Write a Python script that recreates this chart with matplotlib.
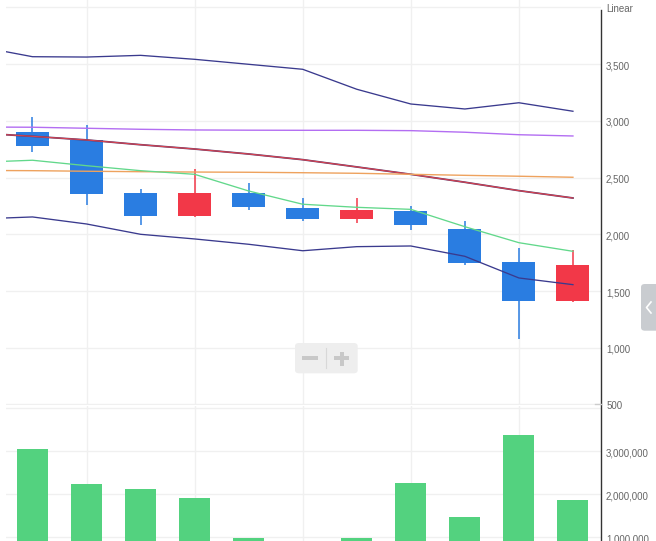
import numpy as np
import matplotlib
matplotlib.use("Agg")
import matplotlib.pyplot as plt
from matplotlib.patches import FancyBboxPatch, Rectangle
from matplotlib.lines import Line2D
from matplotlib.ticker import FuncFormatter

# candle data (index 0..10)
opens = [2902, 2832, 2364, 2164, 2364, 2232, 2135, 2206, 2047, 1756, 1415]
closes = [2781, 2358, 2164, 2364, 2243, 2135, 2214, 2082, 1750, 1415, 1729]
highs = [3034, 2964, 2400, 2576, 2452, 2320, 2320, 2250, 2117, 1879, 1862]
lows = [2728, 2261, 2085, 2155, 2217, 2120, 2100, 2038, 1729, 1080, 1403]
volumes = [3.05e6, 2.24e6, 2.12e6, 1.91e6, 0.98e6, 0.62e6, 0.98e6, 2.26e6, 1.47e6, 3.38e6, 1.87e6]

# indicator lines (index -1..10, first point is off the left edge)
bb_upper = [3656, 3566, 3563, 3578, 3543, 3499, 3455, 3279, 3149, 3105, 3160, 3085]
bb_lower = [2135, 2153, 2091, 2000, 1959, 1912, 1855, 1891, 1897, 1806, 1615, 1556]
bb_middle = [2893, 2864, 2832, 2790, 2752, 2708, 2658, 2594, 2529, 2459, 2385, 2320]
purple_line = [2946, 2944, 2935, 2926, 2920, 2918, 2917, 2917, 2914, 2900, 2878, 2867]
orange_line = [2563, 2561, 2556, 2552, 2549, 2547, 2543, 2538, 2529, 2520, 2512, 2503]
green_line = [2635, 2653, 2605, 2561, 2529, 2382, 2265, 2238, 2220, 2067, 1926, 1850]

price_ticks = [500, 1000, 1500, 2000, 2500, 3000, 3500]
price_grid = [500, 1000, 1500, 2000, 2500, 3000, 3500, 4000]
vol_ticks = [1e6, 2e6, 3e6]
vol_grid = [1e6, 2e6, 3e6, 4e6]

W, H = 656, 541
blue = "#2a7de1"
red = "#f23848"
grid_c = "#f0f0f0"
label_c = "#666666"

fig = plt.figure(figsize=(W / 100, H / 100), dpi=100)


def px_rect(x0, y0, x1, y1):
    return [x0 / W, 1 - y1 / H, (x1 - x0) / W, (y1 - y0) / H]


ax = fig.add_axes(px_rect(6, 0, 600.5, 405))
axv = fig.add_axes(px_rect(6, 406, 600.5, 541))

idx = np.arange(len(opens))
xl = np.arange(-1, len(opens))

for a in (ax, axv):
    a.set_xlim(-0.49, 10.51)
    for s in a.spines.values():
        s.set_visible(False)
    a.tick_params(axis="both", length=0)
    a.set_xticks([])
    a.yaxis.tick_right()
    for gx in [1, 3, 5, 7, 9]:
        a.axvline(gx, color=grid_c, lw=1, zorder=0)

ax.set_ylim(494.8, 4066)
axv.set_ylim(0.914e6, 4.053e6)

for gy in price_grid:
    ax.axhline(gy, color=grid_c, lw=1, zorder=0)
for gy in vol_grid:
    axv.axhline(gy, color=grid_c, lw=1, zorder=0)

# candles
cols = [blue if c < o else red for o, c in zip(opens, closes)]
ax.vlines(idx, lows, highs, colors=cols, lw=1.1, zorder=2)
bottoms = np.minimum(opens, closes)
heights = np.abs(np.array(closes) - np.array(opens))
ax.bar(idx, heights, bottom=bottoms, width=0.61, color=cols, zorder=3)

# indicators
ax.plot(xl, bb_upper, color="#3a3a8e", lw=0.95, zorder=4)
ax.plot(xl, bb_lower, color="#3a3a8e", lw=0.95, zorder=4)
ax.plot(xl, bb_middle, color="#5a3a6e", lw=1.3, zorder=4)
ax.plot(xl, bb_middle, color="#d9434f", lw=0.8, zorder=4)
ax.plot(xl, purple_line, color="#b36ef2", lw=1.0, zorder=4)
ax.plot(xl, orange_line, color="#eea25e", lw=1.0, zorder=4)
ax.plot(xl, green_line, color="#62d88b", lw=0.95, zorder=4)

# volume
axv.bar(idx, volumes, width=0.574, color="#53d27f", zorder=3)

fmt = FuncFormatter(lambda v, p: f"{v:,.0f}")
ax.set_yticks(price_ticks)
ax.yaxis.set_major_formatter(fmt)
axv.set_yticks(vol_ticks)
axv.yaxis.set_major_formatter(fmt)
for a in (ax, axv):
    a.tick_params(axis="y", pad=4, labelsize=7, labelcolor=label_c)
    for t in a.get_yticklabels():
        t.set_fontfamily("Liberation Sans")
        t.set_verticalalignment("top")
        t.set_y(0)

# shift labels slightly below grid lines
import matplotlib.transforms as mtrans
for a in (ax, axv):
    for t in a.get_yticklabels():
        t.set_verticalalignment("center")
        t.set_transform(t.get_transform() + mtrans.ScaledTranslation(0, -2 / 100, fig.dpi_scale_trans))

fig.text(606 / W, 1 - 9 / H, "Linear", fontsize=7, color=label_c,
         family="Liberation Sans", va="center", ha="left")

# right axis line
fig.add_artist(Line2D([600.5 / W, 600.5 / W], [1 - 10 / H, 0], color="#333333", lw=1.0))
fig.add_artist(Line2D([595 / W, 600.5 / W], [1 - 403.7 / H, 1 - 403.7 / H], color="#cccccc", lw=1.0))

# zoom control
fig.add_artist(FancyBboxPatch((295 / W, 1 - 373.3 / H), 62.7 / W, 30.3 / H,
                              boxstyle="round,pad=0,rounding_size=0.006",
                              transform=fig.transFigure, fc="#eeeeee", ec="none"))
fig.add_artist(Rectangle((302.3 / W, 1 - 360.3 / H), 15.7 / W, 4 / H,
                         transform=fig.transFigure, fc="#c8c8c8", ec="none"))
fig.add_artist(Rectangle((334 / W, 1 - 360.3 / H), 15.3 / W, 4 / H,
                         transform=fig.transFigure, fc="#c8c8c8", ec="none"))
fig.add_artist(Rectangle((339.7 / W, 1 - 365.7 / H), 4.3 / W, 13.4 / H,
                         transform=fig.transFigure, fc="#c8c8c8", ec="none"))
fig.add_artist(Line2D([326.3 / W, 326.3 / W], [1 - 348.3 / H, 1 - 368.3 / H], color="#d8d8d8", lw=0.8))

# side tab
fig.add_artist(FancyBboxPatch((641 / W, 1 - 330.7 / H), 25 / W, 46.7 / H,
                              boxstyle="round,pad=0,rounding_size=0.006",
                              transform=fig.transFigure, fc="#c9ccd0", ec="none"))
fig.add_artist(Line2D([651 / W, 646.5 / W, 651 / W], [1 - 302 / H, 1 - 307.5 / H, 1 - 313 / H],
                      color="white", lw=1.2))

fig.savefig("out.png", dpi=100)
